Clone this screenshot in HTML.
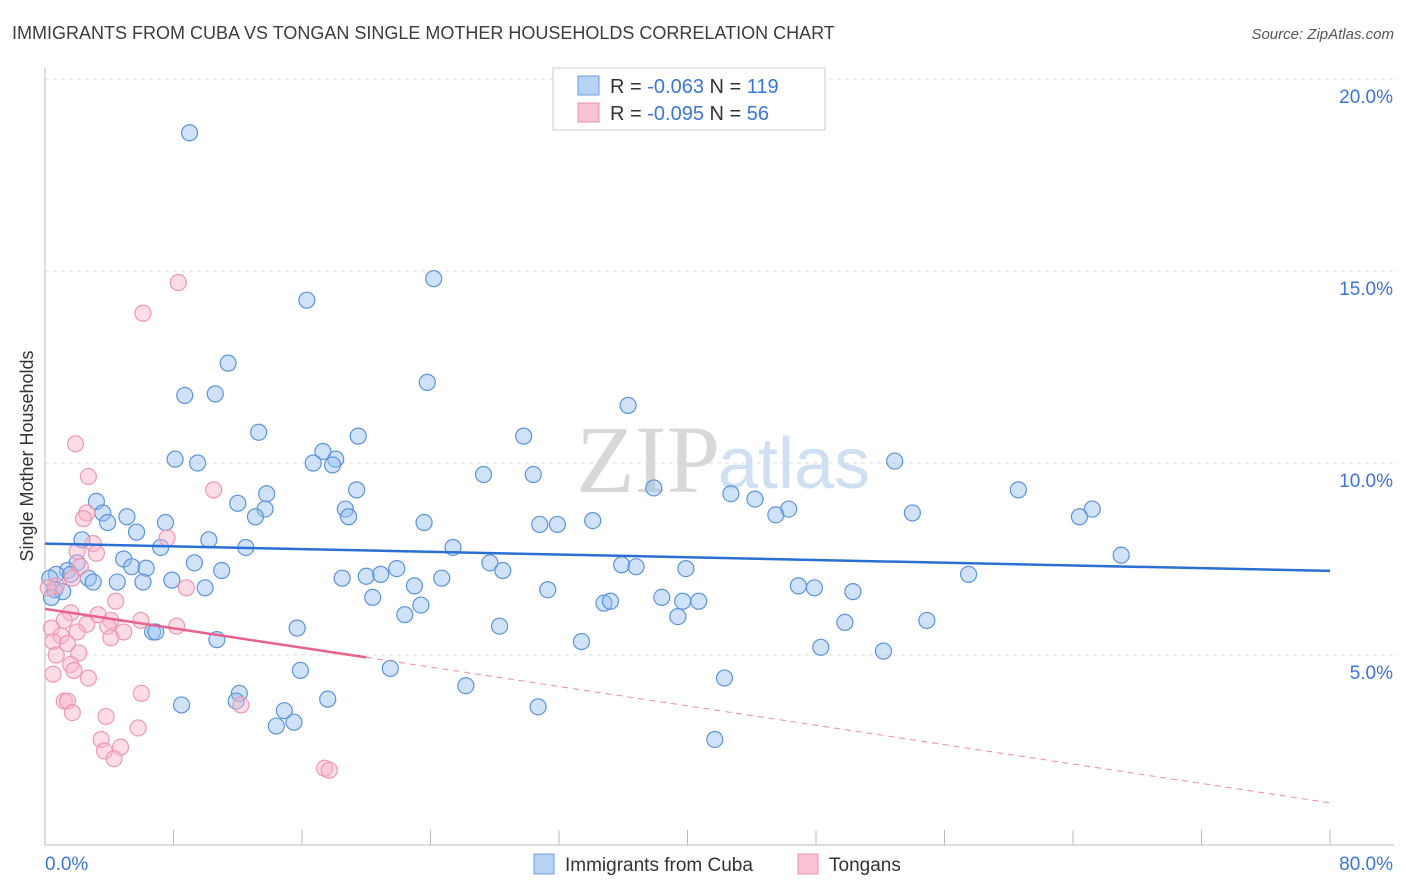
<!DOCTYPE html>
<html><head><meta charset="utf-8"><style>
body{margin:0;background:#fff;font-family:"Liberation Sans",sans-serif;}
svg{display:block}
</style></head><body>
<svg id="chart" width="1406" height="892" viewBox="0 0 1406 892">
<text x="12" y="39" font-size="18" fill="#3c3c3c">IMMIGRANTS FROM CUBA VS TONGAN SINGLE MOTHER HOUSEHOLDS CORRELATION CHART</text>
<text x="1394" y="39" font-size="15" fill="#555" font-style="italic" text-anchor="end">Source: ZipAtlas.com</text>
<text x="33" y="456" font-size="18" fill="#333" text-anchor="middle" transform="rotate(-90 33 456)">Single Mother Households</text>
<g id="grid"></g>
<g id="axes"></g>
<text x="720" y="492" font-size="96" fill="#d8d8d8" text-anchor="end" font-family="Liberation Serif">ZIP</text>
<text x="718" y="488" font-size="72" fill="#cfe0f2">atlas</text>
<g id="pts"></g>
<g id="lines"></g>
<g>
<rect x="553" y="68" width="272" height="62" fill="#fff" stroke="#ccc"/>
<rect x="578" y="76" width="21" height="19" fill="#b7d2f3" stroke="#6a9ee0"/>
<rect x="578" y="103" width="21" height="19" fill="#f9c3d3" stroke="#ec8fac"/>
<text x="610" y="93" font-size="20" fill="#333">R = <tspan fill="#3a76d6">-0.063</tspan>   N = <tspan fill="#3a76d6">119</tspan></text>
<text x="610" y="120" font-size="20" fill="#333">R = <tspan fill="#3a76d6">-0.095</tspan>   N =  <tspan fill="#3a76d6">56</tspan></text>
</g>
<g>
<rect x="534" y="854" width="20" height="20" fill="#b7d2f3" stroke="#6a9ee0"/>
<text x="565" y="871" font-size="19" fill="#333">Immigrants from Cuba</text>
<rect x="798" y="854" width="20" height="20" fill="#f9c3d3" stroke="#ec8fac"/>
<text x="829" y="871" font-size="19" fill="#333">Tongans</text>
</g>
</svg>
<script>
const cubaX=[9.0,24.2,16.3,11.4,23.8,8.7,10.6,36.3,13.3,8.1,9.5,17.3,16.7,18.1,17.9,19.5,29.8,27.3,30.4,52.9,37.9,42.7,44.2,46.3,45.5,54.0,60.6,65.2,64.4,67.0,3.2,3.6,5.1,3.9,5.7,7.5,12.0,13.8,13.7,13.1,18.7,19.4,18.9,23.6,30.8,31.9,34.1,2.3,10.2,7.2,12.5,25.4,4.9,5.4,6.3,9.3,2.0,1.4,0.7,1.6,2.7,3.0,4.5,6.1,7.9,11.0,0.3,0.6,1.1,0.4,9.97,18.5,20.0,20.9,21.9,23.0,24.7,27.7,28.5,20.4,23.4,22.4,31.3,35.9,36.8,39.9,34.8,35.2,38.4,39.7,40.7,39.4,46.9,47.9,50.3,57.5,49.8,54.9,6.7,6.9,15.7,28.3,10.7,33.4,48.3,52.2,15.9,21.5,42.3,26.2,12.1,11.9,8.5,17.6,14.9,14.4,15.5,30.7,41.7];
const cubaY=[18.6,14.8,14.24,12.6,12.1,11.76,11.8,11.5,10.8,10.1,10.0,10.3,10.0,10.1,9.95,10.7,10.7,9.7,9.7,10.05,9.35,9.2,9.06,8.8,8.65,8.7,9.3,8.8,8.6,7.6,9.0,8.7,8.6,8.45,8.2,8.45,8.95,9.2,8.8,8.6,8.8,9.3,8.6,8.45,8.4,8.4,8.5,8.0,8.0,7.8,7.8,7.8,7.5,7.3,7.26,7.4,7.4,7.2,7.1,7.1,7.0,6.9,6.9,6.9,6.95,7.2,7.0,6.7,6.65,6.5,6.75,7.0,7.05,7.1,7.25,6.8,7.0,7.4,7.2,6.5,6.3,6.05,6.7,7.35,7.3,7.25,6.35,6.4,6.5,6.4,6.4,6.0,6.8,6.75,6.65,7.1,5.85,5.9,5.6,5.6,5.7,5.75,5.4,5.35,5.2,5.1,4.6,4.65,4.4,4.2,4.0,3.8,3.7,3.85,3.55,3.15,3.25,3.65,2.8];
const tongX=[8.3,6.1,1.9,2.7,10.5,2.6,2.4,7.6,3.0,3.2,2.0,2.2,1.7,0.7,0.2,8.8,4.4,1.6,3.3,5.97,4.1,1.2,2.6,0.4,8.2,3.9,4.9,2.0,1.0,0.5,4.1,1.4,0.7,2.1,1.6,1.8,0.5,2.7,6.0,1.2,1.4,1.7,3.8,12.2,5.8,3.5,3.7,4.7,4.3,17.4,17.7];
const tongY=[14.7,13.9,10.5,9.65,9.3,8.7,8.55,8.05,7.9,7.65,7.7,7.3,7.0,6.8,6.75,6.75,6.4,6.1,6.05,5.9,5.9,5.9,5.8,5.7,5.75,5.75,5.6,5.6,5.5,5.35,5.45,5.3,5.0,5.05,4.75,4.6,4.5,4.4,4.0,3.8,3.8,3.5,3.4,3.7,3.1,2.8,2.5,2.6,2.3,2.05,2.0];
const cubaTrend=[7.9,7.19];
const tongTrend=[6.2,1.15];
const tongSolidEnd=20;
const yTicks=[5,10,15,20];
const xTickLabels=["0.0%","80.0%"];
const NS="http://www.w3.org/2000/svg";
const X0=45,X1=1330,Y0=847,PXY=38.4;
const sx=v=>X0+(X1-X0)*v/80;
const sy=v=>Y0-v*PXY;
function mk(t,a,p){const e=document.createElementNS(NS,t);for(const k in a)e.setAttribute(k,a[k]);p.appendChild(e);return e;}
const grid=document.getElementById('grid'),axes=document.getElementById('axes'),pts=document.getElementById('pts'),lines=document.getElementById('lines');
yTicks.forEach(v=>{
 const l=mk('line',{x1:X0,x2:1394,y1:sy(v),y2:sy(v),stroke:'#ddd','stroke-dasharray':'4 4'},grid);
 
 
 const t=mk('text',{x:1393,y:sy(v)+24,'font-size':19,fill:'#3a76d6','text-anchor':'end'},grid);
 t.textContent=v.toFixed(1)+'%';
 
 
});
const ay=mk('line',{x1:X0,x2:X0,y1:68,y2:845,stroke:'#bbb'},axes);


const ax=mk('line',{x1:X0,x2:1394,y1:845,y2:845,stroke:'#bbb'},axes);


for(let i=0;i<=10;i++){
 const tk=mk('line',{x1:sx(i*8),x2:sx(i*8),y1:830,y2:845,stroke:'#bbb'},axes);
 
 
}
const xl0=mk('text',{x:45,y:870,'font-size':19,fill:'#3a76d6'},axes);xl0.textContent=xTickLabels[0];


const xl1=mk('text',{x:1393,y:870,'font-size':19,fill:'#3a76d6','text-anchor':'end'},axes);xl1.textContent=xTickLabels[1];


cubaX.forEach((v,i)=>{
 const c=mk('circle',{cx:sx(v),cy:sy(cubaY[i]),r:8,fill:'rgba(150,190,240,0.45)',stroke:'#5b93dc','stroke-width':1.2},pts);
 
 
});
tongX.forEach((v,i)=>{
 const c=mk('circle',{cx:sx(v),cy:sy(tongY[i]),r:8,fill:'rgba(248,180,200,0.45)',stroke:'#ee97b2','stroke-width':1.2},pts);
 
 
});
const bl=mk('line',{x1:sx(0),y1:sy(cubaTrend[0]),x2:sx(80),y2:sy(cubaTrend[1]),stroke:'#2a6fd4','stroke-width':2.5},lines);


const tv=x=>tongTrend[0]+(tongTrend[1]-tongTrend[0])*x/80;
const pl=mk('line',{x1:sx(0),y1:sy(tv(0)),x2:sx(tongSolidEnd),y2:sy(tv(tongSolidEnd)),stroke:'#e8628c','stroke-width':2.5},lines);


const pd=mk('line',{x1:sx(tongSolidEnd),y1:sy(tv(tongSolidEnd)),x2:sx(80),y2:sy(tv(80)),stroke:'#ee8aa8','stroke-width':1,'stroke-dasharray':'6 5'},lines);


</script>
</body></html>
